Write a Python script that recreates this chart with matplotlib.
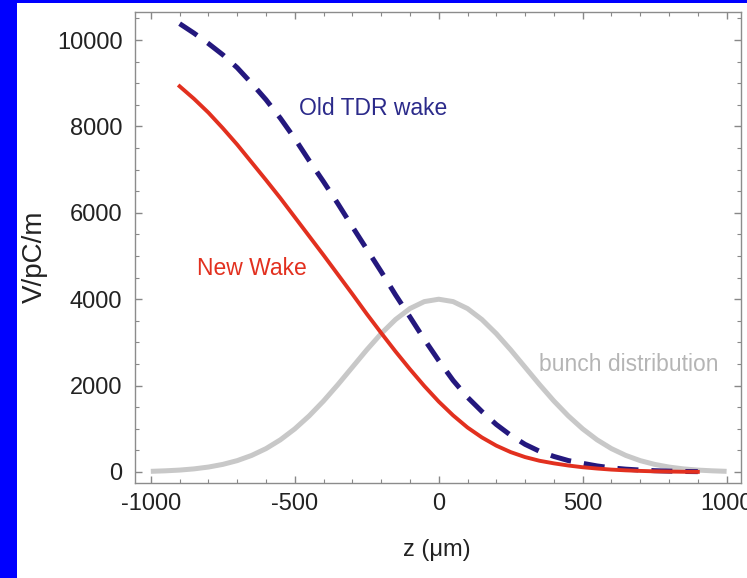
import matplotlib
matplotlib.use("Agg")
import matplotlib.pyplot as plt
from matplotlib.patches import Rectangle
from matplotlib.ticker import MultipleLocator

plt.rcParams['font.family'] = ['Liberation Sans', 'DejaVu Sans']

# bunch distribution (grey), every 50 um
z_bunch = [-1000, -950, -900, -850, -800, -750, -700, -650, -600, -550, -500,
           -450, -400, -350, -300, -250, -200, -150, -100, -50, 0,
           50, 100, 150, 200, 250, 300, 350, 400, 450, 500,
           550, 600, 650, 700, 750, 800, 850, 900, 950, 1000]
bunch = [15, 27, 44, 72, 114, 176, 263, 383, 541, 745, 998,
         1299, 1644, 2025, 2426, 2827, 3203, 3530, 3784, 3945, 4000,
         3945, 3784, 3530, 3203, 2827, 2426, 2025, 1644, 1299, 998,
         745, 541, 383, 263, 176, 114, 72, 44, 27, 15]

# wakes, every 50 um from -900 to 900
z_wake = [-900, -850, -800, -750, -700, -650, -600, -550, -500, -450,
          -400, -350, -300, -250, -200, -150, -100, -50, 0,
          50, 100, 150, 200, 250, 300, 350, 400, 450,
          500, 550, 600, 650, 700, 750, 800, 850, 900]
new_wake = [8930, 8640, 8320, 7960, 7580, 7170, 6760, 6340, 5900, 5460,
            5020, 4570, 4120, 3660, 3220, 2790, 2380, 1990, 1630,
            1310, 1030, 800, 610, 460, 345, 260, 200, 150,
            110, 80, 55, 38, 25, 15, 10, 5, 3]
old_wake = [10380, 10160, 9920, 9660, 9360, 9000, 8620, 8190, 7720, 7210,
            6720, 6210, 5680, 5160, 4640, 4100, 3590, 3070, 2580,
            2120, 1730, 1400, 1100, 850, 640, 480, 360, 265,
            200, 140, 95, 65, 45, 30, 20, 12, 8]

fig = plt.figure(figsize=(7.47, 5.78), dpi=100)
fig.patch.set_facecolor('white')
# blue slide border on the left and top
fig.patches.append(Rectangle((0, 0), 17 / 747, 1, transform=fig.transFigure,
                             facecolor='#0000ff', edgecolor='none', zorder=0))
fig.patches.append(Rectangle((0, 1 - 3 / 578), 1, 3 / 578, transform=fig.transFigure,
                             facecolor='#0000ff', edgecolor='none', zorder=0))

ax = fig.add_axes([135 / 747, 1 - 483 / 578, 606 / 747, 471 / 578])

ax.plot(z_bunch, bunch, color='#c8c8c8', lw=3.6, solid_capstyle='butt', zorder=1)
ax.plot(z_wake, old_wake, color='#24187e', lw=3.6, dashes=(4.2, 2.6), zorder=2)
ax.plot(z_wake, new_wake, color='#e2301f', lw=2.8, zorder=3)

ax.set_xlim(-1055, 1050)
ax.set_ylim(-255, 10650)
ax.set_xticks([-1000, -500, 0, 500, 1000])
ax.set_yticks([0, 2000, 4000, 6000, 8000, 10000])
ax.set_xticklabels(['-1000', '-500', '0', '500', '1000'])
ax.xaxis.set_minor_locator(MultipleLocator(100))
ax.yaxis.set_minor_locator(MultipleLocator(500))
ax.tick_params(which='both', direction='in', top=True, right=True,
               colors='#888888', labelcolor='#222222', labelsize=17)
ax.tick_params(which='major', length=5, width=1)
ax.tick_params(which='minor', length=3, width=0.8)
ax.tick_params(axis='x', pad=7)
ax.tick_params(axis='y', pad=9)
for s in ax.spines.values():
    s.set_color('#8c8c8c')
    s.set_linewidth(1.0)

ax.set_xlabel('z (\u03bcm)', fontsize=17, color='#222222')
ax.set_ylabel('V/pC/m', fontsize=20, color='#222222')
ax.xaxis.set_label_coords(0.498, -0.118)
ax.yaxis.set_label_coords(-0.143, 0.48)

ax.text(-485, 8420, 'Old TDR wake', color='#2b2a8a', fontsize=16.5, va='center')
ax.text(-840, 4700, 'New Wake', color='#e2301f', fontsize=16.5, va='center')
ax.text(350, 2500, 'bunch distribution', color='#b5b5b5', fontsize=16.5, va='center')

fig.savefig('out.png', dpi=100, facecolor='white')
